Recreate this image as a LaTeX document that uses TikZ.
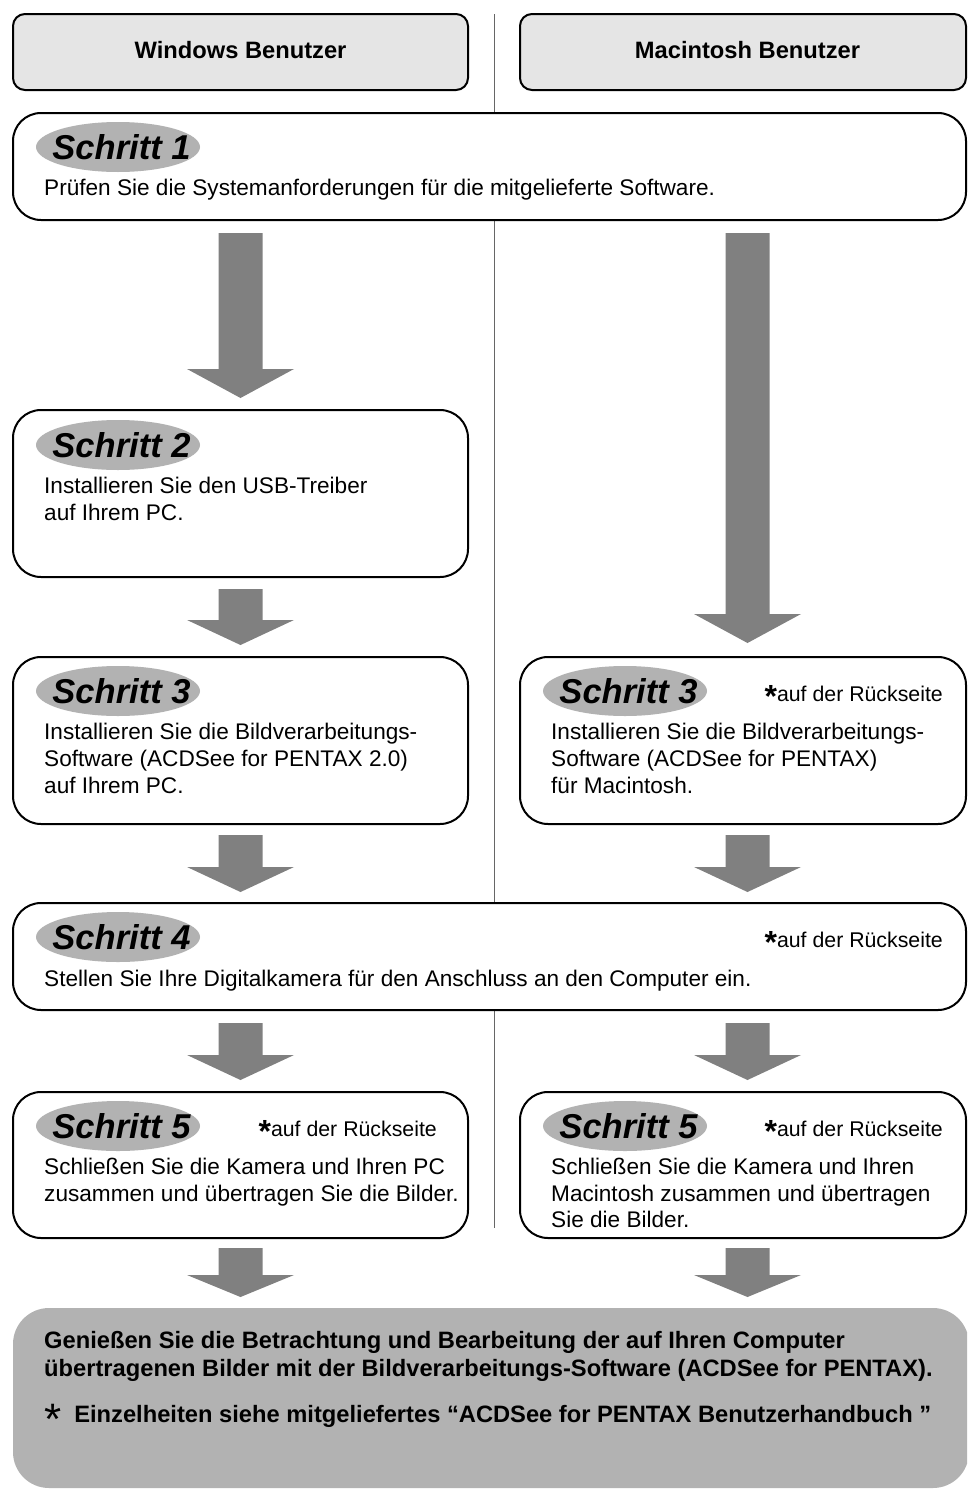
\documentclass[tikz,border=0pt]{standalone}
\usepackage{fontspec}
\setmainfont{Liberation Sans}
\definecolor{hdrgray}{gray}{0.9}
\definecolor{lblgray}{gray}{0.7}
\definecolor{arrgray}{gray}{0.5}
\definecolor{divgray}{gray}{0.4}
\newcommand\blockarrow[4]{%
  \fill[arrgray] (#1-22,#2) -- (#1+22,#2) -- (#1+22,#3) -- (#1+53.5,#3) -- (#1,#4)
    -- (#1-53.5,#3) -- (#1-22,#3) -- cycle;}
% step label: name, x, y, text
\newcommand\steplabel[4]{%
  \fill[lblgray] (#2,#3) ellipse [x radius=82pt, y radius=25pt];
  \node[lbl] (#1) at (#2+3.5,#3) {#4};}
\newcommand\astx{\raisebox{-6.5pt}{\fontsize{32}{32}\selectfont\bfseries *}}
\begin{document}
\begin{tikzpicture}[x=1pt,y=-1pt,
  panel/.style={draw=black, line width=2pt, fill=white, rounded corners=28pt,
    anchor=north west, outer sep=0pt, inner sep=0pt},
  hdr/.style={draw=black, line width=2pt, fill=hdrgray, rounded corners=12pt,
    anchor=north west, outer sep=0pt, inner sep=0pt},
  hdrtxt/.style={inner sep=0pt, font=\fontsize{23.7}{28}\selectfont\bfseries},
  finbox/.style={fill=lblgray, rounded corners=36pt, anchor=north west,
    outer sep=0pt, inner sep=0pt},
  lbl/.style={inner sep=0pt, font=\fontsize{34.5}{35}\selectfont\bfseries\itshape},
  txt/.style={anchor=base west, inner sep=0pt, font=\fontsize{22.6}{27}\selectfont},
  note/.style={anchor=base east, inner sep=0pt, font=\fontsize{21.3}{26}\selectfont},
  fintxt/.style={anchor=base west, inner sep=0pt, font=\fontsize{23.7}{28}\selectfont\bfseries},
  divider/.style={draw=divgray, line width=1pt}
]
\useasboundingbox (0,0) rectangle (967,1491);
\clip (0,0) rectangle (967,1491);

% divider
\coordinate (divtop) at (494,14);
\coordinate (divbot) at (494,1228);
\draw[divider] (divtop) -- (divbot);

% headers
\node[hdr, minimum width=455pt, minimum height=76pt] (hw) at (13,14) {};
\node[hdrtxt] (hwt) at (240.5,50) {Windows Benutzer};
\node[hdr, minimum width=446pt, minimum height=76pt] (hm) at (520,14) {};
\node[hdrtxt] (hmt) at (747.5,50) {Macintosh Benutzer};

% arrows
\blockarrow{240.5}{233}{369}{398}
\blockarrow{747.5}{233}{614}{643}
\blockarrow{240.5}{589}{620}{645}
\blockarrow{240.5}{835}{867}{892}
\blockarrow{747.5}{835}{867}{892}
\blockarrow{240.5}{1023}{1055}{1080}
\blockarrow{747.5}{1023}{1055}{1080}
\blockarrow{240.5}{1248}{1275}{1297}
\blockarrow{747.5}{1248}{1275}{1297}

% Schritt 1
\node[panel, minimum width=953pt, minimum height=107pt] (s1) at (13,113) {};
\steplabel{s1l}{118}{147}{Schritt 1}
\node[txt] (s1a) at (44,195) {Prüfen Sie die Systemanforderungen für die mitgelieferte Software.};

% Schritt 2
\node[panel, minimum width=455pt, minimum height=167pt] (s2) at (13,410) {};
\steplabel{s2l}{118}{445}{Schritt 2}
\node[txt] (s2a) at (44,493) {Installieren Sie den USB-Treiber};
\node[txt] (s2b) at (44,520) {auf Ihrem PC.};

% Schritt 3 Windows
\node[panel, minimum width=455pt, minimum height=167pt] (s3w) at (13,657) {};
\steplabel{s3wl}{118}{691}{Schritt 3}
\node[txt] (s3wa) at (44,739) {Installieren Sie die Bildverarbeitungs-};
\node[txt] (s3wb) at (44,766) {Software (ACDSee for PENTAX 2.0)};
\node[txt] (s3wc) at (44,793) {auf Ihrem PC.};

% Schritt 3 Mac
\node[panel, minimum width=446pt, minimum height=167pt] (s3m) at (520,657) {};
\steplabel{s3ml}{625}{691}{Schritt 3}
\node[note] (s3mn) at (943,701) {\astx auf der Rückseite};
\node[txt] (s3ma) at (551,739) {Installieren Sie die Bildverarbeitungs-};
\node[txt] (s3mb) at (551,766) {Software (ACDSee for PENTAX)};
\node[txt] (s3mc) at (551,793) {für Macintosh.};

% Schritt 4
\node[panel, minimum width=953pt, minimum height=107pt] (s4) at (13,903) {};
\steplabel{s4l}{118}{937}{Schritt 4}
\node[note] (s4n) at (943,947) {\astx auf der Rückseite};
\node[txt] (s4a) at (44,986) {Stellen Sie Ihre Digitalkamera für den Anschluss an den Computer ein.};

% Schritt 5 Windows
\node[panel, minimum width=455pt, minimum height=146pt] (s5w) at (13,1092) {};
\steplabel{s5wl}{118}{1126}{Schritt 5}
\node[note] (s5wn) at (437,1136) {\astx auf der Rückseite};
\node[txt] (s5wa) at (44,1174) {Schließen Sie die Kamera und Ihren PC};
\node[txt] (s5wb) at (44,1201) {zusammen und übertragen Sie die Bilder.};

% Schritt 5 Mac
\node[panel, minimum width=446pt, minimum height=146pt] (s5m) at (520,1092) {};
\steplabel{s5ml}{625}{1126}{Schritt 5}
\node[note] (s5mn) at (943,1136) {\astx auf der Rückseite};
\node[txt] (s5ma) at (551,1174) {Schließen Sie die Kamera und Ihren};
\node[txt] (s5mb) at (551,1201) {Macintosh zusammen und übertragen};
\node[txt] (s5mc) at (551,1227) {Sie die Bilder.};

% final box
\node[finbox, minimum width=956pt, minimum height=180pt] (fin) at (13,1308) {};
\node[fintxt] (fina) at (44,1348) {Genießen Sie die Betrachtung und Bearbeitung der auf Ihren Computer};
\node[fintxt] (finb) at (44,1376) {übertragenen Bilder mit der Bildverarbeitungs-Software (ACDSee for PENTAX).};
\node[fintxt] (finc) at (44,1422) {\raisebox{-12pt}{\fontsize{44}{44}\selectfont\mdseries *}\hspace{13pt}Einzelheiten siehe mitgeliefertes “ACDSee for PENTAX Benutzerhandbuch ”};
\end{tikzpicture}
\end{document}
